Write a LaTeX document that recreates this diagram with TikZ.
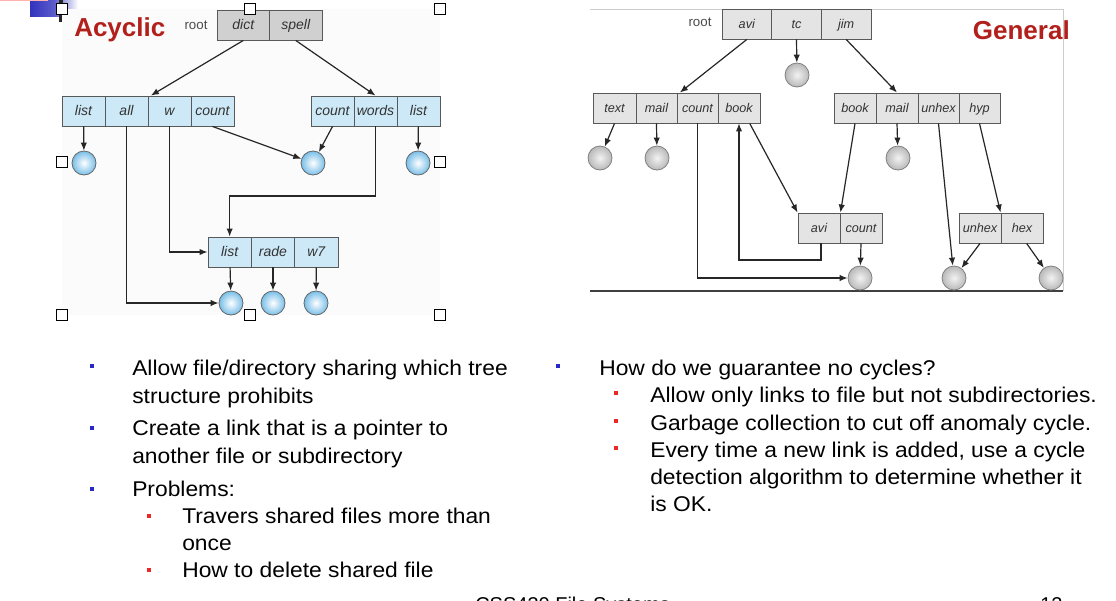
\documentclass[tikz,border=0pt]{standalone}
\usepackage{fontspec}
\setmainfont{Liberation Sans}
\newfontfamily\bodyfont[FakeStretch=1.07]{Liberation Sans}
\usetikzlibrary{arrows.meta,calc}
\definecolor{cellblue}{RGB}{205,233,247}
\definecolor{ballblue}{RGB}{120,190,232}
\definecolor{cellgrayA}{RGB}{208,208,208}
\definecolor{cellgrayB}{RGB}{228,228,228}
\definecolor{titlered}{RGB}{178,32,28}
\definecolor{bulblue}{RGB}{40,40,200}
\definecolor{bulred}{RGB}{235,40,40}
\definecolor{barblue}{RGB}{50,50,190}
\begin{document}
\begin{tikzpicture}[x=0.75pt,y=-0.75pt,
  cellbase/.style={draw=black!65, line width=0.7pt, minimum height=22.5pt, inner sep=0pt, text=black!80, text height=1.4ex, text depth=0.1ex},
  cellB/.style={cellbase, fill=cellblue, minimum width=32.25pt, font=\fontsize{10.5}{12}\selectfont\itshape},
  cellB3/.style={cellbase, fill=cellblue, minimum width=32.5pt, font=\fontsize{10.5}{12}\selectfont\itshape},
  cellGA/.style={cellbase, fill=cellgrayA, minimum width=39.4pt, font=\fontsize{10.5}{12}\selectfont\itshape},
  cellGB/.style={cellbase, fill=cellgrayB, minimum width=#1, font=\fontsize{9.5}{11}\selectfont\itshape},
  ballB/.style={circle, minimum size=18pt, inner sep=0pt, draw=black!60, line width=0.6pt, inner color=white, outer color=ballblue},
  ballG/.style={circle, minimum size=18pt, inner sep=0pt, draw=black!50, line width=0.6pt, inner color=gray!10, outer color=gray!55},
  arr/.style={-{Latex[length=6pt,width=4.8pt]}, line width=0.9pt, draw=black!85},
  handle/.style={draw=black, fill=white, line width=0.6pt, minimum size=8.25pt, inner sep=0pt},
  rootlbl/.style={font=\fontsize{10}{12}\selectfont, text=black!70},
  title/.style={font=\fontsize{19.5}{22}\selectfont\bfseries, text=titlered},
  body/.style={font=\bodyfont\fontsize{16}{19}\selectfont, anchor=base west, inner sep=0pt},
  foot/.style={font=\fontsize{15}{18}\selectfont, anchor=base west, inner sep=0pt},
  bulB/.style={fill=bulblue, minimum size=3.2pt, inner sep=0pt},
  bulR/.style={fill=bulred, minimum size=3.2pt, inner sep=0pt}
]
\useasboundingbox (0,0) rectangle (1116,600);
\clip (0,0) rectangle (1116,600);
\fill[white] (0,0) rectangle (1116,600);

% ---------- top-left decoration ----------
\shade[left color=barblue, right color=white, middle color=barblue!80] (30,0) rectangle (78,16);
\fill[red!30] (0,0) rectangle (48,1.2);
\fill[black!85] (59,0) rectangle (62.5,22);

% ---------- Acyclic diagram ----------
\fill[black!1.5] (62,9) rectangle (440,315);
\node[title, anchor=west, inner sep=0pt] (acyc) at (74,30) {Acyclic};
\node[rootlbl] (rootA) at (196,25) {root};
\node[cellGA] (dict) at (243.25,25) {dict};
\node[cellGA] (spell) at (295.75,25) {spell};

\node[cellB] (l2list) at (83.5,111) {list};
\node[cellB] (l2all) at (126.5,111) {all};
\node[cellB] (l2w) at (169.5,111) {w};
\node[cellB] (l2count) at (212.5,111) {count};
\node[cellB] (r2count) at (332.5,111) {count};
\node[cellB] (r2words) at (375.5,111) {words};
\node[cellB] (r2list) at (418.5,111) {list};

\node[ballB] (c1) at (84,163) {};
\node[ballB] (c2) at (313,163) {};
\node[ballB] (c3) at (418,163) {};

\node[cellB3] (l3list) at (229.67,252) {list};
\node[cellB3] (l3rade) at (273,252) {rade};
\node[cellB3] (l3w7) at (316.33,252) {w7};

\node[ballB] (c4) at (231,303) {};
\node[ballB] (c5) at (273,303) {};
\node[ballB] (c6) at (316,303) {};

\draw[arr] (dict.south) -- ([xshift=2.5pt]l2w.north west);
\draw[arr] (spell.south) -- (r2words.north);
\draw[arr] (l2list) -- (c1);
\draw[arr] (l2count.south) -- (c2);
\draw[arr] (r2count.south) -- (c2);
\draw[arr] (r2list) -- (c3);
\draw[arr] (l2all.south) |- (c4.west);
\draw[arr] (l2w.south) |- (l3list.west);
\coordinate (bendA) at (l3list.north |- 0,196);
\draw[arr] (r2words.south) |- (bendA) -- (l3list.north);
\draw[arr] (l3list) -- (c4);
\draw[arr] (l3rade) -- (c5);
\draw[arr] (l3w7) -- (c6);

% handles
\foreach \p/\q in {62/9,250/9,440/9,62/162,440/162,62/315,250/315,440/315}
  \node[handle] at (\p,\q) {};

% ---------- General diagram ----------
\draw[black!20, line width=0.6pt] (590,9) -- (1063,9) -- (1063,291);
\draw[black!75, line width=1.2pt] (590,291) -- (1063,291);
\node[title, anchor=east, inner sep=0pt] (gen) at (1070,30) {General};
\node[rootlbl] (rootB) at (700,22) {root};
\node[cellGB=37.25pt] (avi) at (746.8,24) {avi};
\node[cellGB=37.25pt] (tc) at (796.5,24) {tc};
\node[cellGB=37.25pt] (jim) at (846.2,24) {jim};

\node[cellGB=32.25pt] (text) at (614.5,108) {text};
\node[cellGB=30.75pt] (mail) at (656.5,108) {mail};
\node[cellGB=30.75pt] (count) at (697.5,108) {count};
\node[cellGB=31.5pt] (book) at (739,108) {book};

\node[cellGB=31.5pt] (book2) at (855,108) {book};
\node[cellGB=31.5pt] (mail2) at (897,108) {mail};
\node[cellGB=30.75pt] (unhex2) at (938.5,108) {unhex};
\node[cellGB=30.75pt] (hyp) at (979.5,108) {hyp};

\node[cellGB=31.5pt] (avi2) at (819,228) {avi};
\node[cellGB=31.5pt] (count2) at (861,228) {count};
\node[cellGB=31.5pt] (unhex3) at (980,228) {unhex};
\node[cellGB=31.5pt] (hex3) at (1022,228) {hex};

\node[ballG] (g1) at (797,75) {};
\node[ballG] (g2) at (600,158) {};
\node[ballG] (g3) at (657,158) {};
\node[ballG] (g4) at (898,158) {};
\node[ballG] (g5) at (860,278) {};
\node[ballG] (g6) at (954,278) {};
\node[ballG] (g7) at (1051,278) {};

\draw[arr] (avi.south) -- ([xshift=2.5pt]count.north west);
\draw[arr] (tc.south) -- (g1);
\draw[arr] (jim.south) -- (mail2.north);
\draw[arr] (text.south) -- (g2);
\draw[arr] (mail.south) -- (g3);
\draw[arr] (count.south) |- (g5.west);
\coordinate (bendB) at ([xshift=1.5pt]avi2.south |- 0,260);
\draw[arr] ([xshift=1.5pt]avi2.south) -- (bendB) -| (book.south);
\draw[arr] ($(book.south)!0.5!(book.south east)$) -- (avi2.north west);
\draw[arr] (book2.south) -- (avi2.north east);
\draw[arr] (mail2.south) -- (g4);
\draw[arr] (unhex2.south) -- (g6);
\draw[arr] (hyp.south) -- (hex3.north west);
\draw[arr] (count2.south) -- (g5);
\draw[arr] (unhex3.south) -- (g6);
\draw[arr] ([xshift=3.5pt]hex3.south) -- (g7);

% ---------- bullet text, left ----------
\node[bulB] (b1) at (92,366) {};
\node[bulB] (b2) at (92,428) {};
\node[bulB] (b3) at (92,489) {};
\node[bulR] (s1) at (149,516) {};
\node[bulR] (s2) at (149,570) {};
\node[body] (t1) at (132,375) {Allow file/directory sharing which tree};
\node[body] (t2) at (132,403) {structure prohibits};
\node[body] (t3) at (132,435) {Create a link that is a pointer to};
\node[body] (t4) at (132,463) {another file or subdirectory};
\node[body] (t5) at (132,496) {Problems:};
\node[body] (t6) at (182,523) {Travers shared files more than};
\node[body] (t7) at (182,550) {once};
\node[body] (t8) at (182,577) {How to delete shared file};

% ---------- bullet text, right ----------
\node[bulB] (b4) at (558,366) {};
\node[bulR] (s3) at (616,393) {};
\node[bulR] (s4) at (616,421) {};
\node[bulR] (s5) at (616,448) {};
\node[body] (u1) at (599,375) {How do we guarantee no cycles?};
\node[body] (u2) at (650,402) {Allow only links to file but not subdirectories.};
\node[body] (u3) at (650,430) {Garbage collection to cut off anomaly cycle.};
\node[body] (u4) at (650,457) {Every time a new link is added, use a cycle};
\node[body] (u5) at (650,484) {detection algorithm to determine whether it};
\node[body] (u6) at (650,511) {is OK.};

% ---------- footer (cut off, as in the reference) ----------
\node[foot] (foot) at (475,611) {CSS430 File Systems};
\node[foot] (pg) at (1040,611) {12};
\end{tikzpicture}
\end{document}
